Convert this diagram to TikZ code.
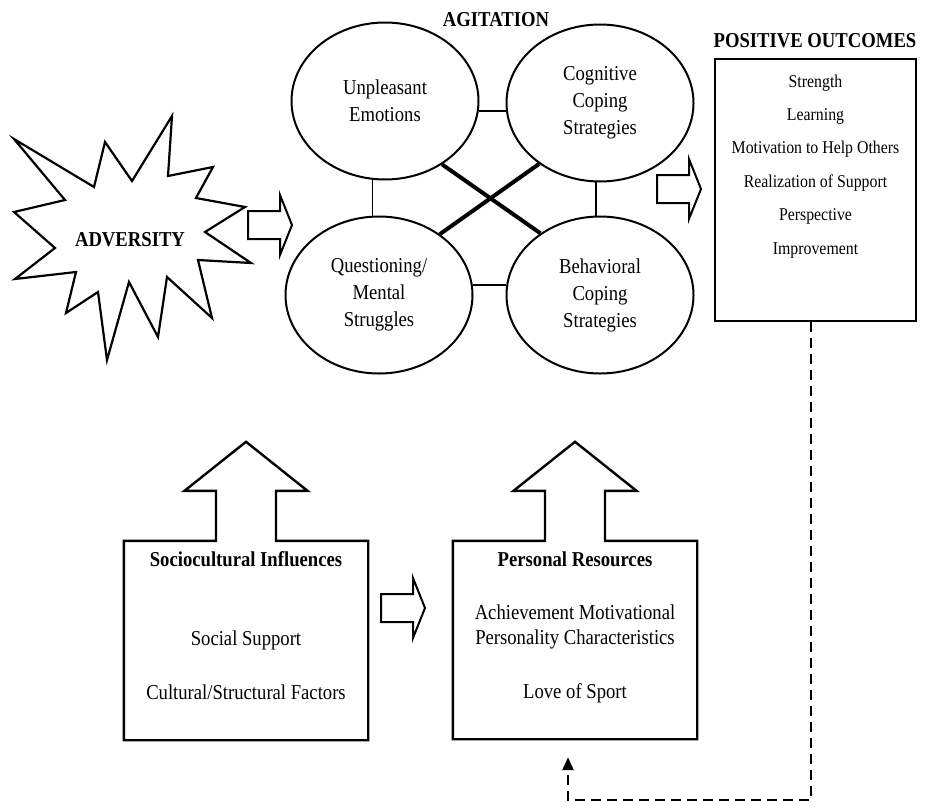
\documentclass[tikz,border=0pt]{standalone}
\usepackage{fontspec}
\setmainfont{Liberation Serif}[FakeStretch=0.88]
\usetikzlibrary{shapes.geometric,positioning,arrows.meta,calc}

\begin{document}
\begin{tikzpicture}[x=1pt,y=-1pt,
  every node/.style={font=\fontsize{21.2}{27}\selectfont,inner sep=0pt},
  oval/.style={ellipse,draw,line width=2pt,minimum width=187pt,minimum height=157pt,align=center},
  head/.style={font=\fontsize{21.2}{27}\selectfont\bfseries},
  link/.style={line width=1.6pt},
  cross/.style={line width=4pt},
  box/.style={line width=2.4pt,line join=miter},
  feedback/.style={line width=2.5pt,dash pattern=on 10pt off 6pt,-{Triangle[width=11pt,length=13pt]}},
  rarrow/.pic={\draw[line width=2pt] (0,-14) -- (32,-14) -- (32,-30) -- (44,0) -- (32,30) -- (32,14) -- (0,14) -- cycle;}]
  \useasboundingbox (0,0) rectangle (926,809);

  % adversity
  \node[head,anchor=base] (adv) at (130,246.5) {ADVERSITY};
  \draw[line width=2.2pt] (14,139) -- (94,187) -- (105,142) -- (132,181) -- (172,116) -- (168,176)
    -- (213,167) -- (196,198) -- (245,207) -- (205,232) -- (251,263) -- (198,260) -- (212,318)
    -- (167,277) -- (158,337) -- (129,282) -- (107,360) -- (98,292) -- (66,313) -- (76,272)
    -- (15,279) -- (55,248) -- (14,212) -- (65,200) -- cycle;
  \pic at (248,225) {rarrow};

  % agitation
  \node[head,anchor=base] (agit) at (496,26.7) {AGITATION};
  \node[oval] (ue) at (385,101) {Unpleasant\\Emotions};
  \node[oval] (cc) at (600,103) {Cognitive\\Coping\\Strategies};
  \node[oval] (qm) at (379,295) {Questioning/\\Mental\\Struggles};
  \node[oval] (bc) at (600,295) {Behavioral\\Coping\\Strategies};
  \draw[link] (ue.-6) -- (ue.-6 -| cc.west);
  \draw[link] (qm.6) -- (qm.6 -| bc.west);
  \draw[link] (ue.261) -- (ue.261 |- qm.north);
  \draw[link] (cc.267) -- (cc.267 |- bc.north);
  \draw[cross] (ue.-48) -- (bc.134);
  \draw[cross] (cc.225) -- (qm.45);
  \pic at (657,189) {rarrow};

  % positive outcomes
  \node[head,anchor=base] (potitle) at (815,47) {POSITIVE OUTCOMES};
  \node[draw,box,minimum width=201pt,minimum height=262pt] (po) at (815.5,190) {};
  \foreach \t [count=\i] in {Strength,Learning,Motivation to Help Others,Realization of Support,Perspective,Improvement}
    \node[anchor=base,font=\fontsize{18}{22}\selectfont] (po\i) at (815.5,53.6+33.4*\i) {\t};

  % influences
  \node[minimum width=244pt,minimum height=199pt] (soc) at (246,640.5) {};
  \node[minimum width=244pt,minimum height=198pt] (pr) at (575,640) {};
  \foreach \b in {soc,pr}
    \draw[box] (\b.north west) -| ($(\b.north)+(-30,-50)$) -- ++(-31.5,0) -- ($(\b.north)+(0,-99)$)
      -- ($(\b.north)+(61.5,-50)$) -- ++(-31.5,0) |- (\b.north east) -- (\b.south east)
      -- (\b.south west) -- cycle;
  \node[head,anchor=base] (soctitle) at (246,566) {Sociocultural Influences};
  \node[anchor=base] (socsup) at (246,645) {Social Support};
  \node[anchor=base] (socfac) at (246,699) {Cultural/Structural Factors};
  \node[head,anchor=base] (prtitle) at (575,566) {Personal Resources};
  \node[anchor=base] (prach) at (575,619) {Achievement Motivational};
  \node[anchor=base] (prpers) at (575,644) {Personality Characteristics};
  \node[anchor=base] (prlove) at (575,698) {Love of Sport};
  \pic at (381,608) {rarrow};

  % feedback
  \coordinate (fturn) at (568,800);
  \draw[feedback] ([xshift=-4.5pt]po.south) |- (fturn) -- ([xshift=-7pt,yshift=-18pt]pr.south);
\end{tikzpicture}
\end{document}
